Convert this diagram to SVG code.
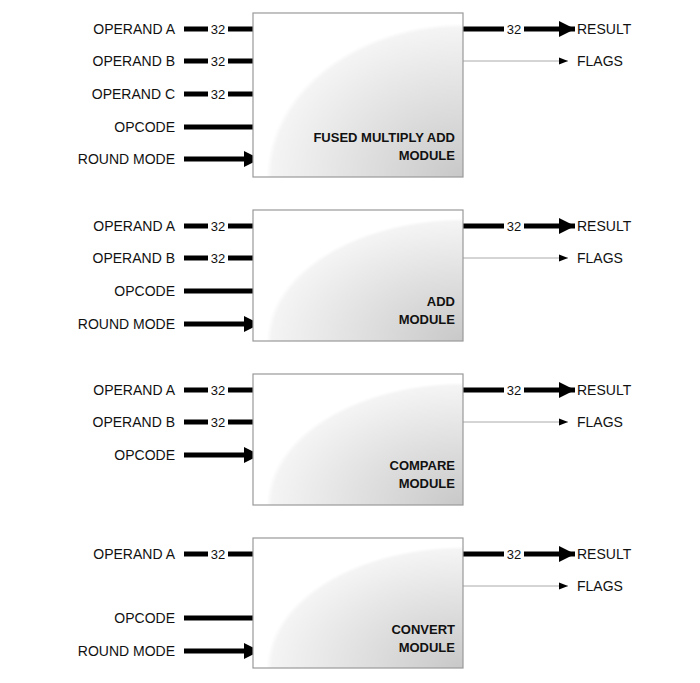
<svg xmlns="http://www.w3.org/2000/svg" width="700" height="683" viewBox="0 0 700 683">
<style>
text{font-family:"Liberation Sans",Arial,sans-serif;font-size:14px;fill:#111}
.l{text-anchor:end}
.t{font-weight:bold;font-size:13px;text-anchor:end}
.n{font-size:13px;text-anchor:middle}
.box{fill:url(#g);stroke:#999;stroke-width:1.2}
.bus{stroke:#000;stroke-width:5;fill:none}
.thin{stroke:#aaa;stroke-width:1;fill:none}
.lb{fill:#fff}
</style>
<defs>
<radialGradient id="g" cx="1" cy="1" r="1.3" gradientUnits="objectBoundingBox">
<stop offset="0" stop-color="#c8c8c8"/>
<stop offset="0.7" stop-color="#f4f4f4"/>
<stop offset="0.72" stop-color="#fff"/>
<stop offset="1" stop-color="#fff"/>
</radialGradient>
<marker id="ah" viewBox="0 0 10 10" refX="10" refY="5" markerWidth="3.2" markerHeight="3.4" orient="auto" markerUnits="strokeWidth"><path d="M0,0L10,5L0,10z" fill="#000"/></marker>
<marker id="as" viewBox="0 0 10 10" refX="10" refY="5" markerWidth="9" markerHeight="9" orient="auto" markerUnits="userSpaceOnUse"><path d="M0,1L10,5L0,9z" fill="#000"/></marker>
</defs>
<g id="connectors">
<path class="bus" marker-end="url(#ah)" d="M184,29H260M184,61H260M184,94H260M184,127H260M184,159H260"/>
<path class="bus" marker-end="url(#ah)" d="M463,29H575"/>
<path class="thin" marker-end="url(#as)" d="M463,61H568"/>
<path class="bus" marker-end="url(#ah)" d="M184,226H260M184,258H260M184,291H260M184,324H260"/>
<path class="bus" marker-end="url(#ah)" d="M463,226H575"/>
<path class="thin" marker-end="url(#as)" d="M463,258H568"/>
<path class="bus" marker-end="url(#ah)" d="M184,390H260M184,422H260M184,455H260"/>
<path class="bus" marker-end="url(#ah)" d="M463,390H575"/>
<path class="thin" marker-end="url(#as)" d="M463,422H568"/>
<path class="bus" marker-end="url(#ah)" d="M184,554H260M184,618H260M184,651H260"/>
<path class="bus" marker-end="url(#ah)" d="M463,554H575"/>
<path class="thin" marker-end="url(#as)" d="M463,586H568"/>
<g>
<rect class="lb" x="208" y="21" width="20" height="16"/><rect class="lb" x="208" y="53" width="20" height="16"/><rect class="lb" x="208" y="86" width="20" height="16"/>
<rect class="lb" x="504" y="21" width="20" height="16"/>
<rect class="lb" x="208" y="218" width="20" height="16"/><rect class="lb" x="208" y="250" width="20" height="16"/>
<rect class="lb" x="504" y="218" width="20" height="16"/>
<rect class="lb" x="208" y="382" width="20" height="16"/><rect class="lb" x="208" y="414" width="20" height="16"/>
<rect class="lb" x="504" y="382" width="20" height="16"/>
<rect class="lb" x="208" y="546" width="20" height="16"/>
<rect class="lb" x="504" y="546" width="20" height="16"/>
</g>
<g>
<text class="n" x="218" y="34">32</text><text class="n" x="218" y="66">32</text><text class="n" x="218" y="99">32</text><text class="n" x="514" y="34">32</text>
<text class="n" x="218" y="231">32</text><text class="n" x="218" y="263">32</text><text class="n" x="514" y="231">32</text>
<text class="n" x="218" y="395">32</text><text class="n" x="218" y="427">32</text><text class="n" x="514" y="395">32</text>
<text class="n" x="218" y="559">32</text><text class="n" x="514" y="559">32</text>
</g>
</g>
<g id="fma">
<rect class="box" x="253" y="13" width="210" height="164"/>
<text class="t" x="455" y="142">FUSED MULTIPLY ADD</text><text class="t" x="455" y="160">MODULE</text>
<text class="l" x="175" y="34">OPERAND A</text><text class="l" x="175" y="66">OPERAND B</text><text class="l" x="175" y="99">OPERAND C</text><text class="l" x="175" y="132">OPCODE</text><text class="l" x="175" y="164">ROUND MODE</text>
<text x="577" y="34">RESULT</text><text x="577" y="66">FLAGS</text>
</g>
<g id="add">
<rect class="box" x="253" y="210" width="210" height="131"/>
<text class="t" x="455" y="306">ADD</text><text class="t" x="455" y="324">MODULE</text>
<text class="l" x="175" y="231">OPERAND A</text><text class="l" x="175" y="263">OPERAND B</text><text class="l" x="175" y="296">OPCODE</text><text class="l" x="175" y="329">ROUND MODE</text>
<text x="577" y="231">RESULT</text><text x="577" y="263">FLAGS</text>
</g>
<g id="compare">
<rect class="box" x="253" y="374" width="210" height="131"/>
<text class="t" x="455" y="470">COMPARE</text><text class="t" x="455" y="488">MODULE</text>
<text class="l" x="175" y="395">OPERAND A</text><text class="l" x="175" y="427">OPERAND B</text><text class="l" x="175" y="460">OPCODE</text>
<text x="577" y="395">RESULT</text><text x="577" y="427">FLAGS</text>
</g>
<g id="convert">
<rect class="box" x="253" y="538" width="210" height="130"/>
<text class="t" x="455" y="634">CONVERT</text><text class="t" x="455" y="652">MODULE</text>
<text class="l" x="175" y="559">OPERAND A</text><text class="l" x="175" y="623">OPCODE</text><text class="l" x="175" y="656">ROUND MODE</text>
<text x="577" y="559">RESULT</text><text x="577" y="591">FLAGS</text>
</g>
</svg>
